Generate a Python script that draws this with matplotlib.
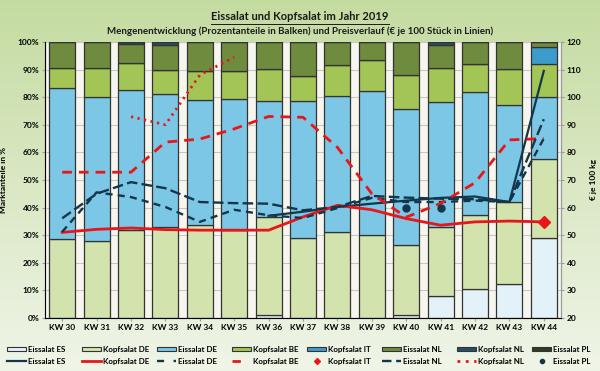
import numpy as np
import matplotlib
matplotlib.use("Agg")
import matplotlib.pyplot as plt
from matplotlib.ticker import PercentFormatter
from matplotlib.lines import Line2D
from matplotlib.patches import Patch

plt.rcParams['font.family'] = ['Liberation Sans Narrow', 'Lato', 'DejaVu Sans']

weeks = ['KW 30', 'KW 31', 'KW 32', 'KW 33', 'KW 34', 'KW 35', 'KW 36', 'KW 37',
         'KW 38', 'KW 39', 'KW 40', 'KW 41', 'KW 42', 'KW 43', 'KW 44']

# market shares in % (bars, stacked bottom to top)
share_eis_es = [0, 0, 0, 0, 0, 0, 1.0, 0, 0, 0, 1.2, 7.9, 10.4, 12.3, 29.1]
share_kopf_de = [28.5, 27.8, 32.0, 33.0, 33.7, 31.8, 35.6, 28.8, 31.2, 30.2, 25.3, 25.1, 26.8, 29.7, 28.6]
share_eis_de = [54.8, 52.2, 50.6, 48.0, 45.3, 47.7, 41.9, 49.8, 49.1, 52.0, 49.2, 45.1, 44.5, 35.3, 22.3]
share_kopf_be = [7.3, 10.6, 9.7, 9.0, 10.4, 9.9, 11.6, 8.9, 11.5, 11.3, 12.3, 12.3, 10.3, 12.8, 12.0]
share_kopf_it = [0, 0, 0, 0, 0, 0, 0, 0, 0, 0, 0, 0, 0, 0, 6.0]
share_eis_nl = [9.4, 9.4, 6.9, 9.0, 10.6, 10.6, 9.9, 12.5, 8.2, 6.5, 12.0, 8.6, 8.0, 9.9, 2.0]
share_kopf_nl = [0, 0, 0.8, 1.0, 0, 0, 0, 0, 0, 0, 0, 1.0, 0, 0, 0]
share_eis_pl = [0] * 15

# prices (lines, right axis)
nan = np.nan
price_eis_es = [nan, nan, nan, nan, nan, nan, 57.0, 58.5, 60.2, 61.4, 62.5, 63.5, 64.0, 62.0, 109.5]
price_kopf_de = [51.0, 52.1, 52.6, 52.0, 51.8, 51.8, 51.8, 56.6, 60.8, 59.2, 56.0, 53.6, 54.8, 55.1, 54.8]
price_eis_de = [51.2, 65.5, 63.8, 60.2, 54.8, 59.2, 57.2, 56.2, 59.8, 63.5, 62.0, 62.0, 62.5, 62.0, 85.0]
price_kopf_be = [72.8, 72.8, 72.8, 83.7, 84.8, 88.5, 93.0, 92.7, 81.8, 65.0, 56.5, 61.5, 69.0, 84.5, 85.0]
price_kopf_it = [nan] * 14 + [54.8]
price_eis_nl = [56.1, 65.0, 69.2, 67.0, 62.0, 61.6, 61.4, 59.0, 60.2, 64.2, 63.6, 63.2, 63.0, 62.0, 92.0]
price_kopf_nl = [nan, nan, 92.9, 90.0, 108.0, 114.5] + [nan] * 9
price_eis_pl = [nan] * 10 + [60.0, 59.8] + [nan] * 3

bar_series = [
    ('Eissalat ES', share_eis_es, '#e3f1f8'),
    ('Kopfsalat DE', share_kopf_de, '#d3e3ad'),
    ('Eissalat DE', share_eis_de, '#7cc7e6'),
    ('Kopfsalat BE', share_kopf_be, '#a3c556'),
    ('Kopfsalat IT', share_kopf_it, '#3d9bcb'),
    ('Eissalat NL', share_eis_nl, '#6f8b3e'),
    ('Kopfsalat NL', share_kopf_nl, '#24506c'),
    ('Eissalat PL', share_eis_pl, '#2f3b22'),
]

dark = '#13364a'
red = '#e8161b'

fig = plt.figure(figsize=(6.0, 3.71), dpi=100)

# light green background gradient
bg = fig.add_axes([0, 0, 1, 1], zorder=-10)
grad = np.linspace(0, 1, 256).reshape(-1, 1)
top_c = np.array([0.77, 0.86, 0.63])
bot_c = np.array([0.94, 0.96, 0.91])
img = top_c * (1 - grad[..., None]) + bot_c * grad[..., None]
bg.imshow(img, aspect='auto', extent=[0, 1, 0, 1])
bg.axis('off')

ax1 = fig.add_axes([0.075, 0.143, 0.86, 0.744])
ax1.set_facecolor('#f6f5ee')
x = np.arange(len(weeks))
bottom = np.zeros(len(weeks))
for name, vals, col in bar_series:
    vals = np.array(vals, dtype=float)
    ax1.bar(x, vals, width=0.76, bottom=bottom, color=col,
            edgecolor='#333333', linewidth=0.9, zorder=3)
    bottom += vals

ax1.set_xlim(-0.5, len(weeks) - 0.5)
ax1.set_ylim(0, 100)
ax1.set_yticks(np.arange(0, 101, 10))
ax1.yaxis.set_major_formatter(PercentFormatter(decimals=0))
ax1.set_xticks(x)
ax1.set_xticklabels(weeks)
ax1.grid(axis='y', color='#c8c8c0', linewidth=0.8, zorder=0)
ax1.set_axisbelow(True)
ax1.set_ylabel('Marktanteile in %', fontsize=6, fontweight='bold', labelpad=8)
ax1.spines['top'].set_visible(False)
for s in ['left', 'right', 'bottom']:
    ax1.spines[s].set_color('#9a9a9a')
ax1.tick_params(labelsize=6, length=2, color='#9a9a9a', pad=2)
for lab in ax1.get_xticklabels() + ax1.get_yticklabels():
    lab.set_fontweight('bold')

ax2 = ax1.twinx()
ax2.set_ylim(20, 120)
ax2.set_yticks(np.arange(20, 121, 10))
ax2.spines['top'].set_visible(False)
ax2.spines['right'].set_color('#9a9a9a')
ax2.tick_params(labelsize=6, length=2, color='#9a9a9a', pad=2)
for lab in ax2.get_yticklabels():
    lab.set_fontweight('bold')
ax2.set_ylabel('€ je 100 kg', fontsize=6, fontweight='bold', labelpad=6)

ax2.plot(x, price_eis_es, color=dark, lw=1.6, zorder=5)
ax2.plot(x, price_kopf_de, color=red, lw=2.0, zorder=5)
ax2.plot(x, price_eis_de, color=dark, lw=1.7, dashes=(3, 2.2), zorder=5)
ax2.plot(x, price_kopf_be, color=red, lw=2.0, dashes=(3.5, 2.5), zorder=5)
ax2.plot(x, price_kopf_it, color=red, lw=0, marker='D', markersize=6, zorder=6)
ax2.plot(x, price_eis_nl, color=dark, lw=1.7, dashes=(4.5, 1.8), zorder=5)
ax2.plot(x, price_kopf_nl, color=red, lw=2.0, dashes=(0.8, 1.6), zorder=5)
ax2.plot(x, price_eis_pl, color=dark, lw=0, marker='o', markersize=5, zorder=6)

# legend: one small legend per column, bars on top row, lines below
line_handles = [
    Line2D([], [], color=dark, lw=1.6),
    Line2D([], [], color=red, lw=2.0),
    Line2D([], [], color=dark, lw=1.7, dashes=(3, 4)),
    Line2D([], [], color=red, lw=2.0, dashes=(3, 4)),
    Line2D([], [], color=red, lw=0, marker='D', markersize=3),
    Line2D([], [], color=dark, lw=1.7, dashes=(4, 2)),
    Line2D([], [], color=red, lw=2.0, dashes=(1, 2)),
    Line2D([], [], color=dark, lw=0, marker='o', markersize=3),
]
for i, ((name, vals, col), lh) in enumerate(zip(bar_series, line_handles)):
    patch = Patch(facecolor=col, edgecolor='#333333', linewidth=0.8)
    fig.legend([patch, lh], [name, name], loc='upper left',
               bbox_to_anchor=((7 + 75 * i) / 600, 1 - 346 / 371),
               frameon=False, borderpad=0, borderaxespad=0,
               handlelength=2.4, handleheight=0.45, handletextpad=0.25,
               labelspacing=0.6, prop={'weight': 'bold', 'size': 5.8})

fig.text(0.5, 0.955, 'Eissalat und Kopfsalat im Jahr 2019', ha='center', va='center',
         fontsize=8, fontweight='bold', color='#1a1a1a')
fig.text(0.5, 0.915, 'Mengenentwicklung (Prozentanteile in Balken) und Preisverlauf (€ je 100 Stück in Linien)',
         ha='center', va='center', fontsize=7, fontweight='bold', color='#1a1a1a')
# underline of the title
fig.add_artist(Line2D([0.352, 0.648], [0.935, 0.935], color='#1a1a1a', lw=0.7))

fig.savefig('out.png', dpi=100)
